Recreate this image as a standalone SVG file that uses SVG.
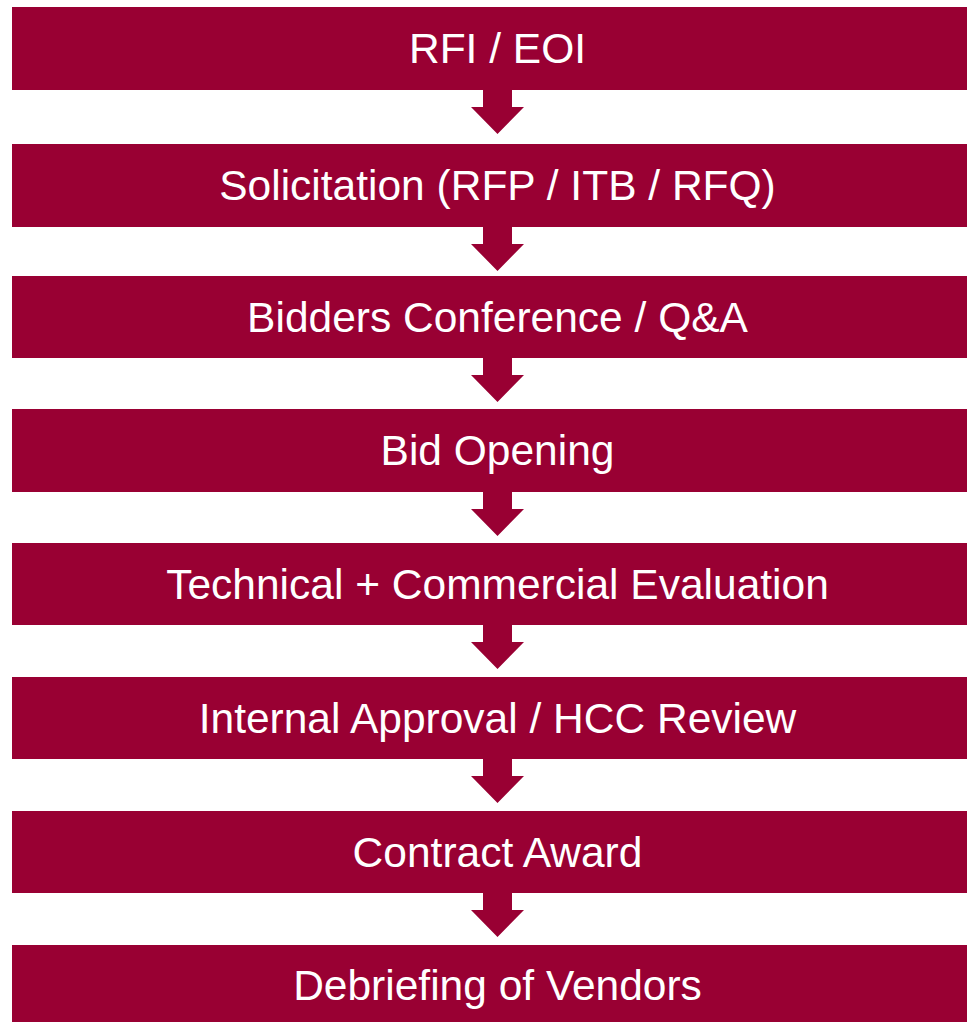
<svg xmlns="http://www.w3.org/2000/svg" width="967" height="1022" viewBox="0 0 967 1022">
  <style>
    .box { fill: #990033; }
    .arrow { fill: #990033; }
    .label { font-family: "Liberation Sans", Arial, sans-serif; font-size: 42.5px; fill: #ffffff; text-anchor: middle; }
  </style>
  <defs>
    <!-- down arrow, origin at top of stem on the centre line -->
    <path id="down" d="M -14.5 0 H 14.5 V 18 H 26.5 L 0 45 L -26.5 18 H -14.5 Z"/>
  </defs>
  <rect width="967" height="1022" fill="#ffffff"/>

  <g id="connectors">
    <use href="#down" class="arrow" x="497.5" y="89"/>
    <use href="#down" class="arrow" x="497.5" y="226"/>
    <use href="#down" class="arrow" x="497.5" y="357"/>
    <use href="#down" class="arrow" x="497.5" y="491"/>
    <use href="#down" class="arrow" x="497.5" y="624"/>
    <use href="#down" class="arrow" x="497.5" y="758"/>
    <use href="#down" class="arrow" x="497.5" y="892"/>
  </g>

  <g id="step1">
    <rect class="box" x="12" y="7" width="955" height="83"/>
    <text class="label" x="497.5" y="63">RFI / EOI</text>
  </g>
  <g id="step2">
    <rect class="box" x="12" y="144" width="955" height="83"/>
    <text class="label" x="497.5" y="200">Solicitation (RFP / ITB / RFQ)</text>
  </g>
  <g id="step3">
    <rect class="box" x="12" y="276" width="955" height="82"/>
    <text class="label" x="497.5" y="332">Bidders Conference / Q&amp;A</text>
  </g>
  <g id="step4">
    <rect class="box" x="12" y="409" width="955" height="83"/>
    <text class="label" x="497.5" y="465">Bid Opening</text>
  </g>
  <g id="step5">
    <rect class="box" x="12" y="543" width="955" height="82"/>
    <text class="label" x="497.5" y="599">Technical + Commercial Evaluation</text>
  </g>
  <g id="step6">
    <rect class="box" x="12" y="677" width="955" height="82"/>
    <text class="label" x="497.5" y="733">Internal Approval / HCC Review</text>
  </g>
  <g id="step7">
    <rect class="box" x="12" y="811" width="955" height="82"/>
    <text class="label" x="497.5" y="867">Contract Award</text>
  </g>
  <g id="step8">
    <rect class="box" x="12" y="945" width="955" height="82"/>
    <text class="label" x="497.5" y="1000">Debriefing of Vendors</text>
  </g>
</svg>
